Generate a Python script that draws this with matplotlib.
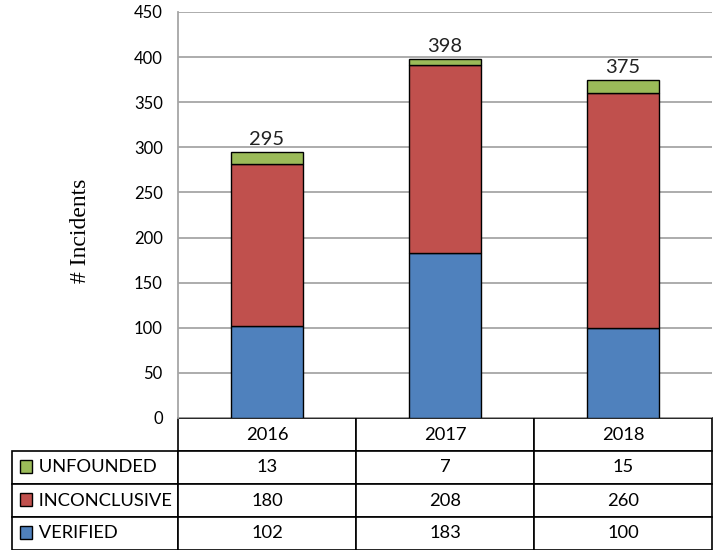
import matplotlib.pyplot as plt
from matplotlib.patches import Rectangle

years = ["2016", "2017", "2018"]
series = ["UNFOUNDED", "INCONCLUSIVE", "VERIFIED"]
verified = [102, 183, 100]
inconclusive = [180, 208, 260]
unfounded = [13, 7, 15]
colors = {"VERIFIED": "#4F81BD", "INCONCLUSIVE": "#C0504D", "UNFOUNDED": "#9BBB59"}

W, H = 718, 550
fig = plt.figure(figsize=(W / 100, H / 100), dpi=100)
ax = fig.add_axes([178 / W, 1 - 418 / H, 534 / W, 406 / H])

x = range(len(years))
bw = 0.4
ax.bar(x, verified, bw, color=colors["VERIFIED"], edgecolor="black", linewidth=1, zorder=3)
ax.bar(x, inconclusive, bw, bottom=verified, color=colors["INCONCLUSIVE"],
       edgecolor="black", linewidth=1, zorder=3)
bottoms = [v + i for v, i in zip(verified, inconclusive)]
ax.bar(x, unfounded, bw, bottom=bottoms, color=colors["UNFOUNDED"],
       edgecolor="black", linewidth=1, zorder=3)

totals = [b + u for b, u in zip(bottoms, unfounded)]
for i, t in enumerate(totals):
    ax.text(i, t + 4, str(t), ha="center", va="bottom", fontsize=14.5,
            family="Lato", color="#222222")

ax.set_xlim(-0.5, 2.5)
ax.set_ylim(0, 450)
ax.set_yticks(range(0, 451, 50))
ax.set_xticks([])
ax.tick_params(axis="y", length=0, pad=11, labelsize=12)
for lab in ax.get_yticklabels():
    lab.set_family("Lato")
ax.grid(axis="y", color="#a6a6a6", linewidth=1.3, zorder=0)
for s in ["top", "right", "bottom"]:
    ax.spines[s].set_visible(False)
ax.spines["left"].set_color("#a6a6a6")
ax.spines["left"].set_linewidth(1.3)
fig.text(80 / W, 1 - 231 / H, "# Incidents", rotation=90, ha="center", va="center",
         fontsize=17, family="Liberation Serif")

# data table under the chart
vals = {"UNFOUNDED": unfounded, "INCONCLUSIVE": inconclusive, "VERIFIED": verified}
cell_text = [[""] + years] + [["     " + s] + [str(v) for v in vals[s]] for s in series]
lw_frac = 166 / 534
tbl = ax.table(cellText=cell_text, cellLoc="center",
               colWidths=[166, 178, 178, 178],
               bbox=[-lw_frac, -132 / 406, 1 + lw_frac, 132 / 406])
tbl.auto_set_font_size(False)
for (r, c), cell in tbl.get_celld().items():
    cell.set_linewidth(1.2)
    cell.get_text().set_fontsize(13.2)
    cell.get_text().set_family("Lato")
    if c == 0:
        cell.get_text().set_ha("left")
        cell._loc = "left"
        cell.PAD = 0.02
tbl[0, 0].visible_edges = ""

# colored legend keys in row labels
for k, s in enumerate(series):
    yc = 418 + 33 * (k + 1) + 15
    x0 = (20 - 178) / 534
    y0 = 1 - (yc + 6.5 - 12) / 406
    ax.add_patch(Rectangle((x0, y0), 12 / 534, 13 / 406, transform=ax.transAxes,
                           facecolor=colors[s], edgecolor="black", linewidth=1,
                           clip_on=False, zorder=5))

fig.savefig("out.png", dpi=100)
